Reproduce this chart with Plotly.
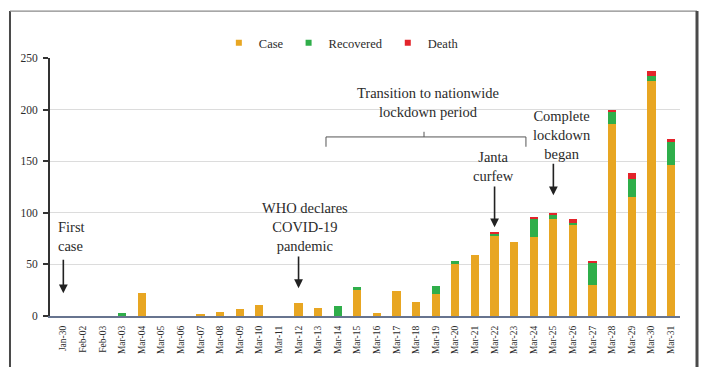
import plotly.graph_objects as go

# Daily COVID-19 counts (Jan 30 - Mar 31)
dates = ["Jan-30", "Feb-02", "Feb-03", "Mar-03", "Mar-04", "Mar-05", "Mar-06", "Mar-07",
         "Mar-08", "Mar-09", "Mar-10", "Mar-11", "Mar-12", "Mar-13", "Mar-14", "Mar-15",
         "Mar-16", "Mar-17", "Mar-18", "Mar-19", "Mar-20", "Mar-21", "Mar-22", "Mar-23",
         "Mar-24", "Mar-25", "Mar-26", "Mar-27", "Mar-28", "Mar-29", "Mar-30", "Mar-31"]
cases = [0, 0, 0, 0, 22, 0, 0, 2, 4, 7, 11, 0, 13, 8, 0, 25,
         3, 24, 14, 21, 50, 59, 78, 72, 77, 94, 89, 30, 186, 115, 228, 146]
recovered = [0, 0, 0, 3, 0, 0, 0, 0, 0, 0, 0, 0, 0, 0, 10, 3,
             0, 0, 0, 8, 3, 0, 1, 0, 17, 4, 1, 22, 12, 18, 5, 23]
deaths = [0, 0, 0, 0, 0, 0, 0, 0, 0, 0, 0, 0, 0, 0, 0, 0,
          0, 0, 0, 0, 0, 0, 2, 0, 2, 1, 4, 1, 2, 6, 4, 3]
y_ticks = [0, 50, 100, 150, 200, 250]

series = [("Case", cases, "#E8A622"), ("Recovered", recovered, "#2FAE4A"), ("Death", deaths, "#E3242B")]

SERIF = "Liberation Serif"
TXT = "#2b2b2b"

fig = go.Figure()
idx = list(range(len(dates)))
for name, vals, col in series:
    fig.add_trace(go.Bar(x=idx, y=vals, name=name, marker=dict(color=col, line=dict(width=0)),
                         showlegend=False))
# small square legend keys
for name, vals, col in series:
    fig.add_trace(go.Scatter(x=[None], y=[None], mode="markers", name=name,
                             marker=dict(symbol="square", size=6, color=col)))

# event arrows: (x index, tail y, head y)
arrows = [(0, 56, 22), (12, 59, 27), (22, 127, 86), (25, 149, 117)]
for x, y0, y1 in arrows:
    fig.add_annotation(x=x, y=y1, ax=x, ay=y0, axref="x", ayref="y", xref="x", yref="y",
                       text="", showarrow=True, arrowhead=2, arrowsize=1.1, arrowwidth=1.6,
                       arrowcolor="#222222")

labels = [
    (-0.35, 77, "First<br>case", "left", "left"),
    (12.35, 86, "WHO declares<br>COVID-19<br>pandemic", "center", "center"),
    (18.6, 207, "Transition to nationwide<br>lockdown period", "center", "center"),
    (21.95, 145, "Janta<br>curfew", "center", "center"),
    (25.45, 175, "Complete<br>lockdown<br>began", "center", "center"),
]
for x, y, t, xa, al in labels:
    fig.add_annotation(x=x, y=y, xref="x", yref="y", text=t, showarrow=False,
                       xanchor=xa, align=al, font=dict(family=SERIF, size=14.5, color=TXT))

# bracket spanning the transition period
br = dict(color="#555555", width=1)
by, by_end, by_mid = 173.5, 164, 178.5
fig.add_shape(type="line", x0=13.4, x1=23.6, y0=by, y1=by, xref="x", yref="y", line=br)
fig.add_shape(type="line", x0=13.4, x1=13.4, y0=by, y1=by_end, xref="x", yref="y", line=br)
fig.add_shape(type="line", x0=23.6, x1=23.6, y0=by, y1=by_end, xref="x", yref="y", line=br)
fig.add_shape(type="line", x0=18.4, x1=18.4, y0=by, y1=by_mid, xref="x", yref="y", line=br)

# outer frame (left, top, right)
fr = dict(color="#4a4a4a", width=2)
fx0, fx1, fy0, fy1 = -0.0635, 1.027, -0.25, 1.182
fig.add_shape(type="line", xref="paper", yref="paper", x0=fx0, x1=fx0, y0=fy0, y1=fy1, line=fr)
fig.add_shape(type="line", xref="paper", yref="paper", x0=fx0, x1=fx1, y0=fy1, y1=fy1,
              line=dict(color="#8a8a8a", width=1.2))
fig.add_shape(type="line", xref="paper", yref="paper", x0=fx1, x1=fx1, y0=fy0, y1=fy1,
              line=dict(color="#4a4a4a", width=3))

fig.update_layout(
    width=705, height=367,
    margin=dict(l=50, r=25, t=58, b=51),
    barmode="stack", bargap=0.58,
    plot_bgcolor="white", paper_bgcolor="white",
    font=dict(family=SERIF, color=TXT),
    legend=dict(orientation="h", x=0.268, xanchor="left", y=1.058, yanchor="middle",
                traceorder="normal",
                font=dict(family=SERIF, size=12.5, color=TXT), itemwidth=30,
                bgcolor="rgba(0,0,0,0)", tracegroupgap=0),
    xaxis=dict(
        tickmode="array", tickvals=idx, ticktext=dates, tickangle=-90,
        range=[-0.68, 31.46], showgrid=False, zeroline=False,
        showline=True, linecolor="#67748f", linewidth=2, ticks="",
        tickfont=dict(family=SERIF, size=9.5, color=TXT), ticklabelstandoff=4,
    ),
    yaxis=dict(
        range=[0, 250], tickvals=y_ticks, showgrid=True, gridcolor="#dcdcdc", gridwidth=1,
        zeroline=False, showline=True, linecolor="#333333", linewidth=2,
        ticks="outside", ticklen=5, tickcolor="#333333", tickwidth=1.5,
        tickfont=dict(family=SERIF, size=11.5, color=TXT), ticklabelstandoff=3,
    ),
)

fig.write_html("out.html")
